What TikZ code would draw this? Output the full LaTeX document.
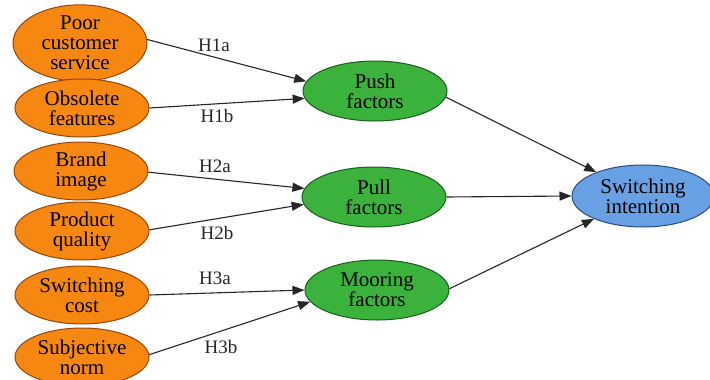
\documentclass[tikz,border=0pt]{standalone}
\usepackage{fontspec}
\setmainfont{Liberation Serif}
\usetikzlibrary{shapes.geometric,arrows.meta}
\definecolor{orangefill}{RGB}{246,136,18}
\definecolor{orangeline}{RGB}{150,70,10}
\definecolor{greenfill}{RGB}{58,178,60}
\definecolor{greenline}{RGB}{25,95,25}
\definecolor{bluefill}{RGB}{104,160,228}
\definecolor{blueline}{RGB}{40,75,130}
\tikzset{
  factor/.style={ellipse, draw=#1line, fill=#1fill, line width=1pt, inner sep=0pt,
    align=center, font=\fontsize{21}{20}\selectfont},
  antecedent/.style={factor=orange, minimum width=134pt, minimum height=60pt},
  construct/.style={factor=green, minimum width=144pt, minimum height=60pt},
  outcome/.style={factor=blue, minimum width=142pt, minimum height=62pt},
  link/.style={-{Triangle[length=12pt,width=9pt]}, line width=1.1pt, black!85},
  hyp/.style={font=\fontsize{19}{19}\selectfont, text=black!85}
}
\begin{document}
\begin{tikzpicture}[x=1pt,y=-1pt]
\useasboundingbox (0,0) rectangle (710,380);
\clip (0,0) rectangle (710,380);
\fill[white] (0,0) rectangle (710,380);

% antecedents
\node[antecedent, minimum height=66pt] (poor) at (80,43) {Poor\\customer\\service};
\node[antecedent, minimum height=58pt] (obs) at (82,108) {Obsolete\\features};
\node[antecedent, minimum height=58pt] (brand) at (81,171) {Brand\\image};
\node[antecedent, minimum height=58pt] (qual) at (82,231) {Product\\quality};
\node[antecedent, minimum height=58pt] (cost) at (82,295) {Switching\\cost};
\node[antecedent, minimum height=58pt] (norm) at (82,357) {Subjective\\norm};

% push, pull and mooring factors
\node[construct] (push) at (375,91) {Push\\factors};
\node[construct] (pull) at (374,197) {Pull\\factors};
\node[construct] (moor) at (377,290) {Mooring\\factors};

% outcome
\node[outcome] (intent) at (643,196) {Switching\\intention};

% hypothesised paths
\draw[link] (poor.3) -- (push.172);
\draw[link] (obs.0) -- (push.186);
\draw[link] (brand.-1) -- (pull.173);
\draw[link] (qual.1) -- (pull.186);
\draw[link] (cost.0) -- (moor.180);
\draw[link] (norm.2) -- (moor.190);
\draw[link] (push.-5) -- (intent.153);
\draw[link] (pull.0) -- (intent.180);
\draw[link] (moor.1) -- (intent.205);

% path labels
\node[hyp] (h1a) at (214,45) {H1a};
\node[hyp] (h1b) at (217,116) {H1b};
\node[hyp] (h2a) at (215,166) {H2a};
\node[hyp] (h2b) at (217,233) {H2b};
\node[hyp] (h3a) at (215,278) {H3a};
\node[hyp] (h3b) at (221,347) {H3b};
\end{tikzpicture}
\end{document}
